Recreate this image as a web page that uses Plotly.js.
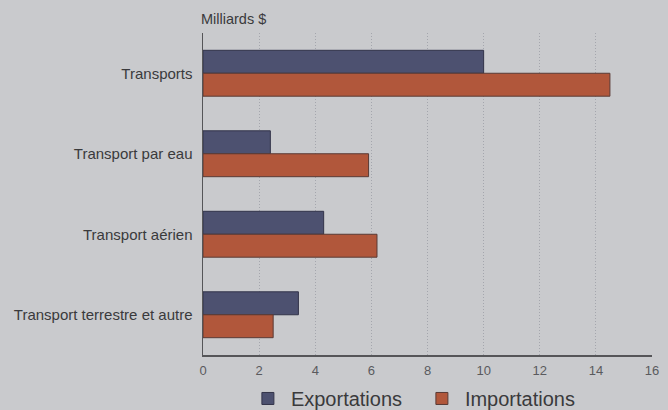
<!DOCTYPE html>
<html>
<head>
<meta charset="utf-8">
<script src="https://cdn.plot.ly/plotly-3.0.1.min.js"></script>
<style>html,body{margin:0;padding:0;background:#c9cacd;}#chart{width:668px;height:410px;}</style>
</head>
<body>
<div id="chart"></div>
<script>
const categories = ["Transports", "Transport par eau", "Transport aérien", "Transport terrestre et autre"];
const exportations = [10.0, 2.4, 4.3, 3.4];
const importations = [14.5, 5.9, 6.2, 2.5];
const tickValues = [0, 2, 4, 6, 8, 10, 12, 14, 16];
const unitLabel = "Milliards $";

const traces = [
  {type: "bar", orientation: "h", name: "Exportations", y: categories, x: exportations,
   marker: {color: "#4d5170", line: {color: "#33344a", width: 1}}},
  {type: "bar", orientation: "h", name: "Importations", y: categories, x: importations,
   marker: {color: "#b1573b", line: {color: "#5a3a35", width: 1}}}
];

const layout = {
  width: 668, height: 410,
  paper_bgcolor: "#c9cacd", plot_bgcolor: "#c9cacd",
  margin: {l: 203, r: 16, t: 33, b: 55, autoexpand: false},
  barmode: "group", bargap: 0.43, bargroupgap: 0,
  font: {family: "Liberation Sans, Arial, sans-serif", color: "#3a3a3c"},
  xaxis: {range: [0, 16], tickvals: tickValues, ticks: "", showgrid: true,
          gridcolor: "#a4a6ad", griddash: "1px,2px", gridwidth: 1,
          showline: true, linecolor: "#555558", linewidth: 1.5, zeroline: false,
          tickfont: {size: 13, color: "#5a5a5e"}, ticklabelstandoff: 3, fixedrange: true},
  yaxis: {autorange: "reversed", ticks: "", showline: true, linecolor: "#555558", linewidth: 1.5,
          tickfont: {size: 15, color: "#3a3a3c"}, ticklabelstandoff: 6, fixedrange: true},
  legend: {orientation: "h", x: 0.0933, xanchor: "left", y: -0.135, yanchor: "middle",
           font: {size: 20, color: "#3a3a3c"}, bgcolor: "rgba(0,0,0,0)", traceorder: "normal",
           itemwidth: 36, entrywidth: 123},
  annotations: [{text: unitLabel, xref: "paper", yref: "paper", x: 0, y: 1, xanchor: "left", yanchor: "bottom",
                 xshift: -4, yshift: 4, showarrow: false, font: {size: 14.5, color: "#3a3a3c"}}],
  showlegend: true
};

Plotly.newPlot("chart", traces, layout, {displayModeBar: false, staticPlot: true});
</script>
</body>
</html>
